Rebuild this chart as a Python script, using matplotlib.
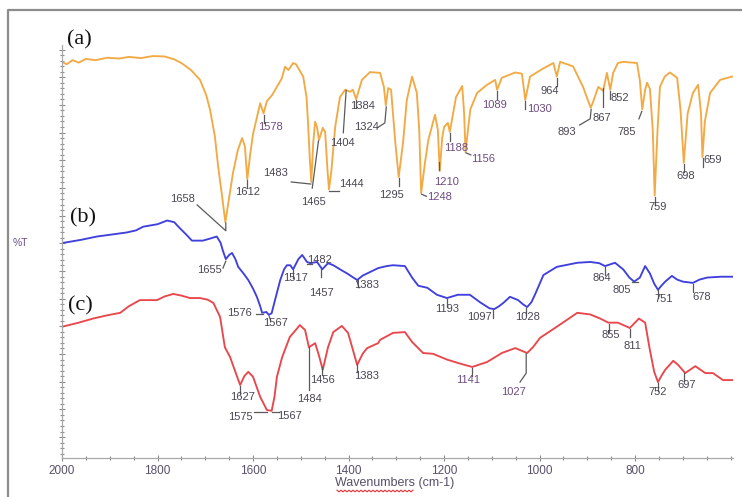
import numpy as np
import matplotlib
matplotlib.use("Agg")
import matplotlib.pyplot as plt
from matplotlib.lines import Line2D
from matplotlib.ticker import FixedLocator, MultipleLocator

plt.rcParams['font.family'] = ['Liberation Sans', 'DejaVu Sans']

# ---- spectra (wavenumber cm-1, %T arbitrary) ----
wn_a = [2000, 1990, 1978, 1965, 1950, 1930, 1905, 1880, 1860, 1835, 1810, 1785, 1765,
        1750, 1730, 1711, 1698, 1690, 1680, 1673, 1665, 1658, 1652, 1642, 1632, 1623,
        1617, 1612, 1606, 1600, 1585, 1578, 1571, 1560, 1550, 1540, 1533, 1526, 1516,
        1510, 1495, 1488, 1485, 1481, 1478, 1474, 1470, 1466, 1462, 1454, 1449, 1444,
        1441, 1436, 1428, 1418, 1407, 1397, 1391, 1384, 1372, 1355, 1334, 1326, 1322,
        1317, 1311, 1302, 1295, 1286, 1278, 1267, 1257, 1252, 1248, 1240, 1233, 1219,
        1213, 1209, 1204, 1200, 1192, 1188, 1175, 1162, 1158, 1155, 1150, 1145, 1131,
        1110, 1093, 1089, 1079, 1051, 1037, 1030, 1020, 992, 971, 964, 957, 930, 909,
        893, 888, 877, 867, 859, 852, 846, 836, 825, 796, 790, 785, 779, 775, 769, 763,
        759, 753, 748, 738, 727, 712, 705, 698, 690, 679, 668, 662, 659, 654, 643, 622, 597]
t_a = [96.6, 96.0, 97.0, 96.4, 97.3, 97.0, 97.6, 97.4, 97.8, 97.5, 98.0, 97.9, 97.2,
       96.3, 94.6, 92.2, 88.5, 84.9, 78.5, 71.0, 64.0, 57.5, 62.0, 69.5, 75.0, 78.0,
       76.0, 68.0, 74.0, 79.0, 86.5, 84.0, 87.0, 88.5, 90.5, 92.5, 95.4, 94.6, 96.3,
       96.0, 93.0, 88.0, 82.0, 72.7, 67.3, 76.8, 82.0, 80.7, 77.5, 80.5, 79.5, 70.0,
       65.5, 70.0, 80.7, 88.0, 89.8, 89.3, 89.8, 87.5, 92.2, 94.1, 93.9, 90.5, 86.0,
       90.2, 89.8, 76.8, 68.5, 76.8, 87.3, 93.0, 89.0, 80.0, 64.6, 72.0, 77.5, 83.7,
       80.0, 70.0, 78.0, 80.7, 81.7, 79.5, 88.0, 90.7, 84.0, 74.6, 80.0, 85.0, 89.0,
       91.0, 92.2, 89.8, 92.7, 94.0, 93.7, 87.3, 93.0, 95.0, 96.3, 93.0, 96.6, 95.5, 90.5,
       85.4, 86.8, 90.5, 89.5, 93.9, 89.8, 93.9, 96.3, 96.6, 96.3, 92.0, 85.0, 89.8, 91.5, 90.0, 80.0,
       64.0, 80.0, 90.5, 93.0, 94.0, 92.7, 85.0, 72.0, 84.0, 89.0, 91.0, 84.0, 73.4, 82.0, 89.0, 92.2, 93.0]

wn_b = [2000, 1960, 1927, 1895, 1864, 1845, 1830, 1800, 1780, 1765, 1753, 1740, 1728,
        1705, 1690, 1676, 1668, 1663, 1657, 1650, 1644, 1637, 1631, 1620, 1610, 1600,
        1592, 1585, 1581, 1572, 1567, 1561, 1554, 1543, 1535, 1529, 1522, 1516, 1505,
        1497, 1487, 1480, 1466, 1455, 1443, 1432, 1415, 1403, 1390, 1382, 1370, 1361,
        1338, 1320, 1307, 1282, 1267, 1254, 1235, 1215, 1194, 1171, 1146, 1125, 1105,
        1095, 1085, 1076, 1062, 1045, 1035, 1026, 1017, 1009, 992, 964, 921, 894, 875,
        863, 842, 825, 812, 802, 790, 779, 769, 760, 752, 745, 737, 723, 712, 700, 679,
        665, 649, 620, 597]
t_b = [52.4, 53.2, 54.0, 54.5, 55.0, 55.5, 56.4, 57.0, 57.9, 57.5, 56.0, 54.5, 53.0,
       53.0, 53.5, 54.0, 52.5, 50.5, 48.5, 49.5, 50.0, 48.5, 46.6, 45.0, 43.4, 41.3,
       39.3, 37.0, 35.4, 35.6, 34.9, 35.3, 38.5, 43.4, 46.0, 47.0, 47.0, 46.0, 48.5,
       49.5, 47.8, 47.5, 47.8, 46.0, 47.5, 47.0, 45.8, 45.0, 44.0, 43.4, 44.5, 45.0,
       46.3, 46.8, 47.0, 46.8, 44.0, 42.0, 41.5, 39.8, 39.0, 39.8, 39.8, 38.0, 36.5,
       36.3, 37.0, 37.8, 39.3, 38.5, 37.5, 36.8, 38.0, 40.0, 44.6, 46.6, 47.6, 47.8, 47.5,
       46.8, 47.6, 46.0, 44.0, 43.0, 44.0, 46.8, 45.0, 42.5, 41.0, 42.0, 43.0, 44.4, 43.5, 43.0, 42.7,
       43.5, 44.0, 44.2, 44.2]

wn_c = [2000, 1965, 1935, 1905, 1878, 1860, 1837, 1801, 1785, 1767, 1750, 1732, 1711,
        1695, 1683, 1669, 1659, 1648, 1637, 1627, 1618, 1610, 1600, 1585, 1571, 1561,
        1555, 1550, 1539, 1523, 1512, 1502, 1491, 1483, 1470, 1462, 1454, 1443, 1432,
        1414, 1401, 1390, 1382, 1370, 1361, 1338, 1334, 1307, 1282, 1267, 1244, 1223,
        1194, 1166, 1141, 1110, 1079, 1051, 1026, 1014, 999, 964, 921, 894, 873, 856,
        836, 811, 792, 779, 769, 760, 752, 745, 737, 720, 710, 695, 674, 653, 637, 616, 597]
t_c = [32.0, 33.0, 34.0, 34.8, 35.4, 37.0, 38.5, 38.5, 39.4, 40.0, 39.6, 39.0, 39.0,
       38.6, 37.8, 34.4, 27.0, 24.6, 21.0, 17.8, 20.0, 21.0, 19.8, 14.9, 11.7, 11.5,
       15.0, 19.8, 24.6, 29.5, 31.0, 32.4, 31.2, 27.0, 28.0, 25.0, 21.5, 27.0, 30.7,
       32.2, 30.5, 26.0, 22.7, 25.5, 26.8, 28.0, 28.8, 30.5, 30.7, 28.3, 25.6, 25.4,
       24.0, 23.0, 22.2, 23.4, 25.6, 26.8, 25.6, 27.0, 29.3, 32.0, 35.4, 35.0, 34.0, 33.0,
       33.0, 31.7, 34.0, 33.0, 26.3, 21.0, 18.5, 20.0, 21.5, 23.7, 22.7, 20.7, 22.4, 20.7, 20.7, 19.0, 19.0]

# ---- peak labels: (text, label x, label y, leader polyline or None = short tick) ----
labels_a = [
    ('1658', 1747, 63.2, [(1717, 61.7), (1657, 55.4), (1657, 57.3)]),
    ('1612', 1612, 64.8, None),
    ('1578', 1564, 80.6, None),
    ('1483', 1552, 69.5, [(1520, 67.3), (1479, 66.8)]),
    ('1465', 1474, 62.4, [(1476, 65.8), (1463, 77.3)]),
    ('1444', 1393, 66.8, [(1440, 65.0), (1421, 65.0)]),
    ('1404', 1412, 76.8, [(1411, 79.3), (1405, 89.6)]),
    ('1384', 1370, 85.8, None),
    ('1324', 1362, 80.7, [(1340, 80.5), (1324, 81.7), (1321, 85.6)]),
    ('1295', 1311, 64.2, None),
    ('1248', 1210, 63.6, [(1247, 64.3), (1237, 63.8)]),
    ('1210', 1194, 67.4, None),
    ('1188', 1175, 75.7, None),
    ('1156', 1118, 72.9, [(1154, 74.4), (1144, 73.9)]),
    ('1089', 1095, 86.1, None),
    ('1030', 1001, 85.0, None),
    ('964', 978, 89.4, None),
    ('893', 943, 79.6, [(916, 81.2), (894, 82.7), (892, 85.0)]),
    ('867', 869, 82.8, [(867, 85.5), (867, 90.3)]),
    ('852', 833, 87.8, None),
    ('785', 817, 79.6, [(792, 82.7), (786, 84.5)]),
    ('759', 752, 61.3, None),
    ('698', 695, 68.8, None),
    ('659', 637, 72.7, [(658, 73.2), (658, 71.0)]),
]
labels_b = [
    ('1655', 1692, 45.8, [(1663, 46.3), (1657, 48.0)]),
    ('1517', 1512, 43.9, None),
    ('1482', 1460, 48.3, [(1487, 47.3), (1476, 47.3)]),
    ('1457', 1456, 40.2, None),
    ('1383', 1362, 42.2, [(1382, 43.0), (1378, 41.5)]),
    ('1576', 1629, 35.4, [(1593, 35.2), (1580, 35.2)]),
    ('1567', 1554, 33.0, [(1566, 34.5), (1563, 33.5)]),
    ('1193', 1194, 36.3, None),
    ('1097', 1127, 34.4, None),
    ('1028', 1026, 34.4, None),
    ('864', 869, 43.9, None),
    ('805', 827, 41.0, [(806, 43.0), (793, 43.0)]),
    ('751', 741, 38.8, None),
    ('678', 660, 39.3, None),
]
labels_c = [
    ('1627', 1623, 14.9, None),
    ('1575', 1627, 10.0, [(1597, 11.2), (1571, 11.2)]),
    ('1567', 1523, 10.2, [(1561, 11.2), (1546, 11.2)]),
    ('1484', 1481, 14.4, [(1483, 16.6), (1483, 27.0)]),
    ('1456', 1454, 19.0, None),
    ('1383', 1362, 20.0, None),
    ('1141', 1150, 19.0, None),
    ('1027', 1055, 16.1, [(1041, 18.5), (1028, 20.7), (1028, 25.4)]),
    ('855', 852, 30.0, None),
    ('811', 806, 27.3, None),
    ('752', 752, 16.1, None),
    ('697', 693, 17.8, None),
]
purple_labels = {'1578', '1089', '1030', '1210', '1248', '1156', '1188', '1027', '1141'}

x_major = [2000, 1800, 1600, 1400, 1200, 1000, 800]

fig = plt.figure(figsize=(7.42, 4.97), dpi=100)
ax = fig.add_axes([62 / 742, 39 / 497, 671 / 742, 413 / 497])

traces = [(wn_a, t_a, '#f2aa45', labels_a),
          (wn_b, t_b, '#4040dc', labels_b),
          (wn_c, t_c, '#e8474c', labels_c)]
for wn, t, col, labs in traces:
    ax.plot(wn, t, color=col, lw=1.35, solid_joinstyle='round')
    # curves are stored in descending wavenumber; interp needs ascending
    wa, ta = np.array(wn)[::-1], np.array(t)[::-1]
    for txt, lx, ly, lead in labs:
        if lead is None:
            pk = float(txt)
            yc = np.interp(pk, wa, ta)
            lead = [(pk, yc - 0.3), (pk, yc - 2.2)]
        xs, ys = zip(*lead)
        ax.plot(xs, ys, color='#5a5a5a', lw=0.9)
        ax.text(lx, ly, txt, ha='center', va='center', fontsize=8,
                color='#6e4c80' if txt in purple_labels else '#4a4654')

ax.set_xlim(2000, 595)
ax.set_ylim(0, 100.7)
for s in ('top', 'right'):
    ax.spines[s].set_visible(False)
for s in ('left', 'bottom'):
    ax.spines[s].set_color('#a8a8a8')
    ax.spines[s].set_linewidth(0.9)

ax.xaxis.set_major_locator(FixedLocator(x_major))
ax.xaxis.set_minor_locator(MultipleLocator(50))
ax.yaxis.set_major_locator(FixedLocator(np.arange(5.1, 100.7, 6.75)))
ax.yaxis.set_minor_locator(FixedLocator(np.arange(5.1 - 6.75, 100.7, 1.35)))
ax.tick_params(which='both', direction='inout', color='#8a8a8a', width=0.8)
ax.tick_params(which='major', length=4)
ax.tick_params(which='minor', length=2.5)
ax.tick_params(axis='x', labelsize=8.5, labelcolor='#58506a', pad=3)
ax.tick_params(axis='y', labelleft=False)

# panel letters
for letter, px, py in [('(a)', 67, 40), ('(b)', 70, 218), ('(c)', 68, 306)]:
    fig.text(px / 742, 1 - py / 497, letter, fontsize=16, va='center', ha='left',
             family=['Liberation Serif', 'DejaVu Serif'], color='#111111')

fig.text(13 / 742, 1 - 243 / 497, '%T', fontsize=7.5, va='center', ha='left', color='#6a4c8c')
fig.text(395 / 742, 1 - 483 / 497, 'Wavenumbers (cm-1)', fontsize=9, ha='center', va='center',
         color='#58506a')
# spell-check squiggle under "Wavenumbers"
sx = np.arange(337, 414, 2)
sy = 491 + np.where(np.arange(len(sx)) % 2 == 0, -0.8, 0.8)
fig.add_artist(Line2D(sx / 742, 1 - sy / 497, color='#e03030', lw=0.8))

# outer frame (left and top edges visible)
fig.add_artist(Line2D([8 / 742, 8 / 742, 1], [0, 1 - 10 / 497, 1 - 10 / 497],
                      color='#8c8c8c', lw=1.6))

fig.savefig('out.png', dpi=100)
